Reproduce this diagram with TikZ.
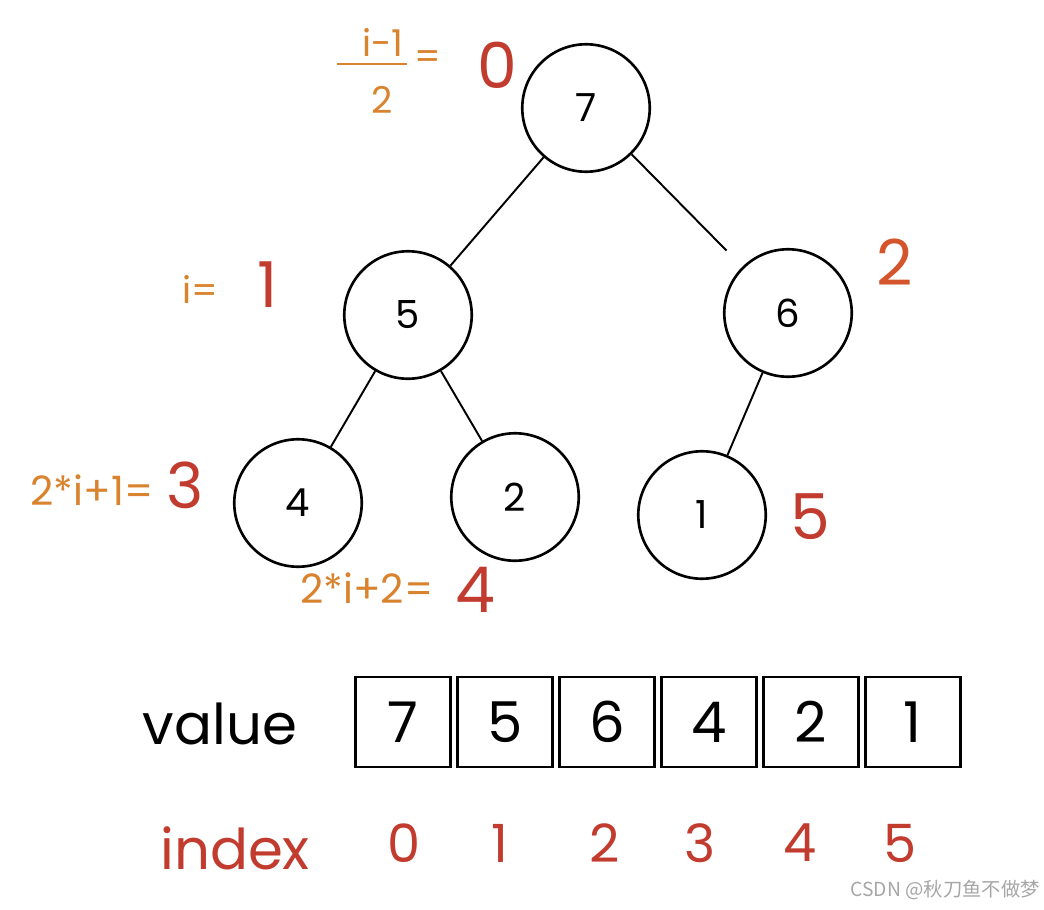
\documentclass[tikz,border=0pt]{standalone}
\usepackage{fontspec}
\usetikzlibrary{positioning}
\setmainfont{Poppins}
\newfontfamily\cjkfont{Noto Sans CJK SC}
\definecolor{annor}{HTML}{D9832E}
\definecolor{annred}{HTML}{C13B2E}
\definecolor{annred2}{HTML}{D4552B}
\begin{document}
\begin{tikzpicture}[x=0.02cm,y=-0.02cm,
  treenode/.style={circle,draw,line width=1.5pt,minimum size=2.55cm,inner sep=0pt,font=\fontsize{22}{22}\selectfont},
  edge/.style={line width=1.1pt},
  cell/.style={draw,line width=1.5pt,minimum width=1.9cm,minimum height=1.8cm,inner sep=0pt,outer sep=0pt,font=\fontsize{32}{32}\selectfont},
  orange/.style={text=annor,font=\fontsize{21}{21}\selectfont,inner sep=0pt},
  redbig/.style={text=annred,font=\fontsize{36}{36}\selectfont,inner sep=0pt},
  idx/.style={text=annred,font=\fontsize{30}{30}\selectfont,inner sep=0pt},
  label/.style={font=\fontsize{32}{32}\selectfont,inner sep=0pt}]
\useasboundingbox (0,0) rectangle (1044,909);
% tree nodes
\node[treenode] (n7) at (586,108) {7};
\node[treenode] (n5) at (408,315) {5};
\node[treenode] (n6) at (788,313) {6};
\node[treenode] (n4) at (298,503) {4};
\node[treenode] (n2) at (515,497) {2};
\node[treenode] (n1) at (702,515) {1};
% edges
\draw[edge] (n7) -- (n5);
\draw[edge,shorten >=0.45cm] (n7) -- (n6);
\draw[edge] (n5) -- (n4);
\draw[edge] (n5) -- (n2);
\draw[edge] (n6) -- (n1);
% annotations
\node[orange] (num) at (383,42) {i-1};
\coordinate (fl) at (337,64);
\coordinate (fr) at (407,64);
\draw[annor,line width=1.2pt] (fl) -- (fr);
\node[orange] (den) at (382,100) {2};
\node[orange] (eq0) at (428,60) {=};
\node[redbig] (r0) at (497,65) {0};
\node[orange] (ieq) at (200,289) {i=};
\node[redbig] (r1) at (268,285) {1};
\node[text=annred2,font=\fontsize{36}{36}\selectfont,inner sep=0pt] (r2) at (895,262) {2};
\node[orange,font=\fontsize{23}{23}\selectfont] (f3) at (92,490) {2*i+1=};
\node[redbig] (r3) at (185,485) {3};
\node[orange,font=\fontsize{23}{23}\selectfont] (f4) at (367,588) {2*i+2=};
\node[redbig] (r4) at (475,590) {4};
\node[redbig] (r5) at (810,517) {5};
% array
\node[label] (val) at (220,724) {value};
\node[cell] (c0) at (403,722) {7};
\node[cell,right=0.14cm of c0] (c1) {5};
\node[cell,right=0.14cm of c1] (c2) {6};
\node[cell,right=0.14cm of c2] (c3) {4};
\node[cell,right=0.14cm of c3] (c4) {2};
\node[cell,right=0.14cm of c4] (c5) {1};
\node[label,text=annred] (ind) at (235,848) {index};
\node[idx] (i0) at (404,843) {0};
\node[idx] (i1) at (500,843) {1};
\node[idx] (i2) at (605,843) {2};
\node[idx] (i3) at (700,843) {3};
\node[idx] (i4) at (800,843) {4};
\node[idx] (i5) at (900,843) {5};
\node[text=gray!70,font=\cjkfont\fontsize{11}{11}\selectfont,anchor=east,inner sep=0pt] (wm) at (1040,890) {CSDN @秋刀鱼不做梦};
\end{tikzpicture}
\end{document}
